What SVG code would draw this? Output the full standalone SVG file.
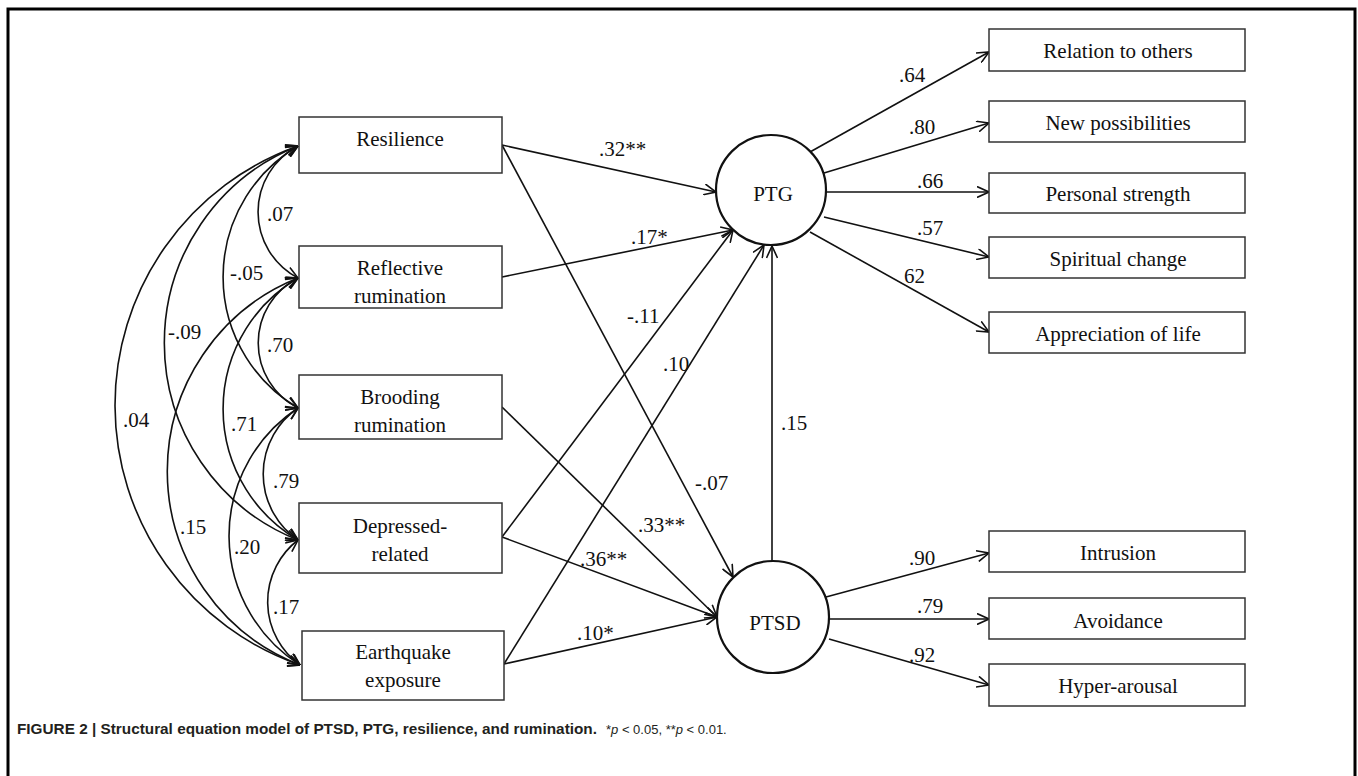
<svg xmlns="http://www.w3.org/2000/svg" width="1358" height="776" viewBox="0 0 1358 776">
<style>
.box{fill:#fff;stroke:#333;stroke-width:1.5}
.lat{fill:#fff;stroke:#111;stroke-width:2.2}
.t{font-family:'Liberation Serif','DejaVu Serif','Noto Serif',serif;font-size:21px;fill:#111;text-anchor:middle}
.l{font-family:'Liberation Serif','DejaVu Serif','Noto Serif',serif;font-size:21px;fill:#111}
.a{fill:none;stroke:#111;stroke-width:1.6;marker-end:url(#ah)}
.d{fill:none;stroke:#111;stroke-width:1.6;marker-start:url(#ah);marker-end:url(#ah)}
.cap{font-family:'Liberation Sans',Arial,sans-serif;fill:#231f20}
</style>
<defs>
<marker id="ah" markerUnits="userSpaceOnUse" viewBox="0 0 13 12" refX="12.5" refY="6" markerWidth="13" markerHeight="12" orient="auto-start-reverse">
<path d="M0.5,0.5 L12.5,6 L0.5,11.5" fill="none" stroke="#111" stroke-width="1.6"/>
</marker>
</defs>
<rect width="1358" height="776" fill="#fff"/>
<path d="M8,780 L8,9 L1355,9 L1355,780" fill="none" stroke="#000" stroke-width="3"/>

<g id="connectors">
<path class="d" d="M298,146 A74.5,74.5 0 0 0 298,278"/>
<path class="d" d="M298,146 A152,152 0 0 0 298,408"/>
<path class="d" d="M298,146 A212,212 0 0 0 298,540"/>
<path class="d" d="M298,146 A275,275 0 0 0 300,665"/>
<path class="d" d="M298,278 A73,73 0 0 0 298,408"/>
<path class="d" d="M298,278 A152,152 0 0 0 298,540"/>
<path class="d" d="M298,278 A208,208 0 0 0 300,665"/>
<path class="d" d="M298,408 A80,80 0 0 0 298,540"/>
<path class="d" d="M298,408 A153,153 0 0 0 300,665"/>
<path class="d" d="M298,540 A78,78 0 0 0 300,665"/>

<path class="a" d="M502,145 L716,192"/>
<path class="a" d="M502,145 L733,577"/>
<path class="a" d="M502,277 L733,230"/>
<path class="a" d="M502,407 L717,617"/>
<path class="a" d="M502,537 L733,230"/>
<path class="a" d="M502,537 L717,617"/>
<path class="a" d="M504,664 L764,245"/>
<path class="a" d="M504,664 L717,617"/>
<path class="a" d="M772,561 L772,246"/>

<path class="a" d="M810,152 L989,52"/>
<path class="a" d="M824,173 L989,123"/>
<path class="a" d="M826,192 L989,192"/>
<path class="a" d="M824,217 L989,257"/>
<path class="a" d="M810,232 L989,332"/>

<path class="a" d="M826,597 L989,553"/>
<path class="a" d="M829,619 L989,619"/>
<path class="a" d="M829,639 L989,685"/>
</g>

<g id="labels">
<text class="l" x="267" y="221">.07</text>
<text class="l" x="230" y="280">-.05</text>
<text class="l" x="168" y="339">-.09</text>
<text class="l" x="267" y="352">.70</text>
<text class="l" x="123" y="427">.04</text>
<text class="l" x="231" y="431">.71</text>
<text class="l" x="273" y="488">.79</text>
<text class="l" x="180" y="534">.15</text>
<text class="l" x="234" y="554">.20</text>
<text class="l" x="273" y="614">.17</text>

<text class="l" x="599" y="156">.32**</text>
<text class="l" x="631" y="244">.17*</text>
<text class="l" x="627" y="323">-.11</text>
<text class="l" x="663" y="371">.10</text>
<text class="l" x="781" y="430">.15</text>
<text class="l" x="695" y="490">-.07</text>
<text class="l" x="638" y="532">.33**</text>
<text class="l" x="580" y="566">.36**</text>
<text class="l" x="577" y="640">.10*</text>

<text class="l" x="899" y="82">.64</text>
<text class="l" x="909" y="134">.80</text>
<text class="l" x="917" y="188">.66</text>
<text class="l" x="917" y="235">.57</text>
<text class="l" x="904" y="283">62</text>
<text class="l" x="909" y="565">.90</text>
<text class="l" x="917" y="613">.79</text>
<text class="l" x="909" y="662">.92</text>
</g>

<g id="resilience"><rect class="box" x="299" y="117" width="203" height="56"/><text class="t" x="400" y="146">Resilience</text></g>
<g id="reflective"><rect class="box" x="299" y="246" width="203" height="62"/><text class="t" x="400" y="275">Reflective</text><text class="t" x="400" y="303">rumination</text></g>
<g id="brooding"><rect class="box" x="299" y="375" width="203" height="64"/><text class="t" x="400" y="404">Brooding</text><text class="t" x="400" y="432">rumination</text></g>
<g id="depressed"><rect class="box" x="299" y="503" width="203" height="70"/><text class="t" x="400" y="533">Depressed-</text><text class="t" x="400" y="561">related</text></g>
<g id="earthquake"><rect class="box" x="302" y="631" width="202" height="69"/><text class="t" x="403" y="659">Earthquake</text><text class="t" x="403" y="687">exposure</text></g>

<g id="ptg"><circle class="lat" cx="771" cy="190" r="55"/><text class="t" x="773" y="201">PTG</text></g>
<g id="ptsd"><circle class="lat" cx="773" cy="617" r="56"/><text class="t" x="775" y="630">PTSD</text></g>

<g id="relation"><rect class="box" x="989" y="29" width="256" height="42"/><text class="t" x="1118" y="58">Relation  to others</text></g>
<g id="newposs"><rect class="box" x="989" y="101" width="256" height="41"/><text class="t" x="1118" y="130">New possibilities</text></g>
<g id="personal"><rect class="box" x="989" y="173" width="256" height="40"/><text class="t" x="1118" y="201">Personal  strength</text></g>
<g id="spiritual"><rect class="box" x="989" y="237" width="256" height="41"/><text class="t" x="1118" y="266">Spiritual  change</text></g>
<g id="appreciation"><rect class="box" x="989" y="312" width="256" height="41"/><text class="t" x="1118" y="341">Appreciation  of life</text></g>
<g id="intrusion"><rect class="box" x="989" y="531" width="256" height="41"/><text class="t" x="1118" y="560">Intrusion</text></g>
<g id="avoidance"><rect class="box" x="989" y="598" width="256" height="41"/><text class="t" x="1118" y="628">Avoidance</text></g>
<g id="hyper"><rect class="box" x="989" y="664" width="256" height="42"/><text class="t" x="1118" y="693">Hyper-arousal</text></g>

<g id="caption">
<text class="cap" x="17" y="734" style="font-size:15px;font-weight:bold" textLength="580" lengthAdjust="spacingAndGlyphs">FIGURE 2 | Structural equation model of PTSD, PTG, resilience, and rumination.</text>
<text class="cap" x="606" y="734" style="font-size:13px">*<tspan style="font-style:italic">p</tspan> &lt; 0.05, **<tspan style="font-style:italic">p</tspan> &lt; 0.01.</text>
</g>
</svg>
